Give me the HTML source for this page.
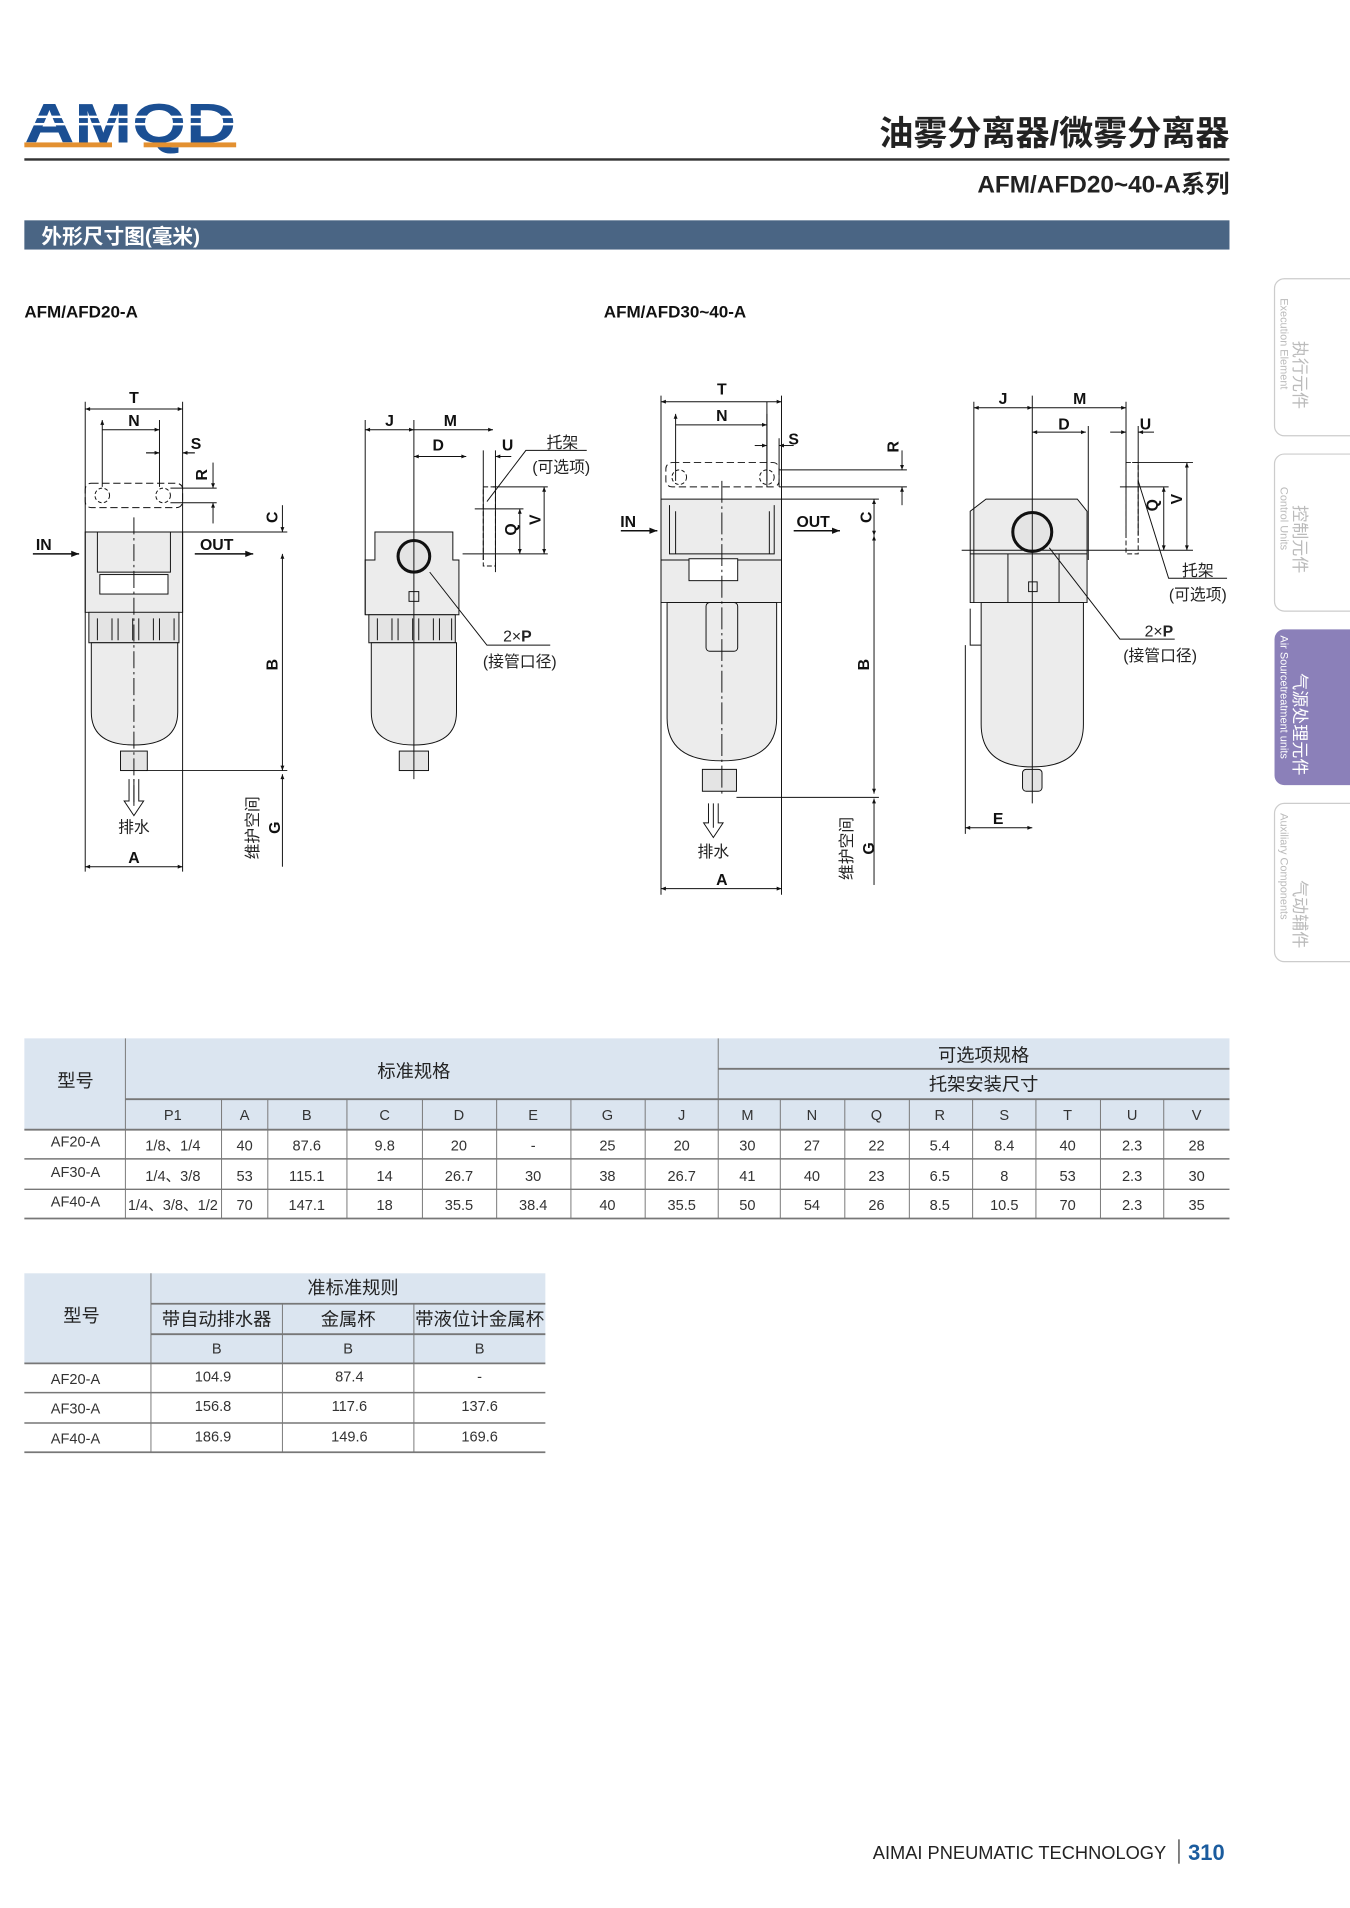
<!DOCTYPE html>
<html><head><meta charset="utf-8"><style>
html,body{margin:0;padding:0;background:#fff}
svg{display:block}
text{font-family:"Liberation Sans","Noto Sans CJK SC",sans-serif}
</style></head><body>
<svg width="1350" height="1908" viewBox="0 0 1109 1567.4" xmlns="http://www.w3.org/2000/svg">
<defs>
<marker id="a" viewBox="0 0 10 10" refX="10" refY="5" markerWidth="7" markerHeight="5" orient="auto-start-reverse"><path d="M0,1 L10,5 L0,9 z" fill="#111"/></marker>
</defs>
<!-- header -->
<text x="20" y="117" font-size="46" font-weight="bold" fill="#1b4f93" textLength="174" lengthAdjust="spacingAndGlyphs">AMQD</text>
<g fill="#fff"><rect x="22" y="95" width="170" height="2"/><rect x="22" y="101" width="170" height="2"/></g>
<rect x="20" y="117" width="72" height="4" fill="#e39030"/>
<rect x="118" y="117" width="76" height="4" fill="#e39030"/>
<text x="1010" y="119" font-size="28" text-anchor="end" fill="#222" font-weight="bold">油雾分离器/微雾分离器</text>
<rect x="20" y="130" width="990" height="2" fill="#333"/>
<text x="1010" y="158" font-size="20" text-anchor="end" fill="#222" font-weight="bold">AFM/AFD20~40-A系列</text>
<rect x="20" y="181" width="990" height="24" fill="#4a6584"/>
<text x="34" y="200" font-size="17" font-weight="bold" fill="#fff">外形尺寸图(毫米)</text>
<text x="20" y="261" font-size="14" font-weight="bold" fill="#111">AFM/AFD20-A</text>
<text x="496" y="261" font-size="14" font-weight="bold" fill="#111">AFM/AFD30~40-A</text>

<!-- side tabs -->
<g font-size="11" fill="#bbb">
<rect x="1047" y="229" width="70" height="129" rx="8" fill="#fff" stroke="#ccc"/>
<text transform="translate(1052,245) rotate(90)" font-size="9">Execution Element</text>
<text transform="translate(1063,280) rotate(90)" font-size="14">执行元件</text>
<rect x="1047" y="373" width="70" height="129" rx="8" fill="#fff" stroke="#ccc"/>
<text transform="translate(1052,400) rotate(90)" font-size="9">Control Units</text>
<text transform="translate(1063,415) rotate(90)" font-size="14">控制元件</text>
<rect x="1047" y="517" width="70" height="128" rx="8" fill="#8b80b9"/>
<text transform="translate(1052,522) rotate(90)" font-size="9" fill="#fff">Air Sourcetreatment units</text>
<text transform="translate(1063,553) rotate(90)" font-size="14" fill="#fff">气源处理元件</text>
<rect x="1047" y="660" width="70" height="130" rx="8" fill="#fff" stroke="#ccc"/>
<text transform="translate(1052,668) rotate(90)" font-size="9">Auxiliary Components</text>
<text transform="translate(1063,723) rotate(90)" font-size="14">气动辅件</text>
</g>

<g stroke="#111" stroke-width="0.8" fill="none">
<!-- ===== Drawing 1 ===== -->
<path d="M70,437 H150 V503 H70 Z" fill="#ececec"/>
<path d="M73,503 H147 V528 H73 Z" fill="#e4e4e4"/>
<path d="M80,508 V526 M92,508 V526 M97,508 V526 M109,508 V526 M114,508 V526 M126,508 V526 M131,508 V526 M143,508 V526"/>
<path d="M75,528 H146 V585 Q146,612 110,612 Q75,612 75,585 Z" fill="#ececec"/>
<rect x="99" y="617" width="22" height="16" fill="#e4e4e4"/>
<rect x="82" y="472" width="56" height="16" fill="#fff"/>
<path d="M80,437 V470 H140 V437"/>
<rect x="70" y="397" width="80" height="20" rx="5" stroke-dasharray="6 3"/>
<circle cx="84" cy="407" r="6" stroke-dasharray="3 2"/><circle cx="134" cy="407" r="6" stroke-dasharray="3 2"/>
<path d="M110,425 V660" stroke-dasharray="14 3 2 3"/>
<path d="M70,330 V716 M150,330 V716"/>
<path d="M70,336 H150" marker-start="url(#a)" marker-end="url(#a)"/>
<path d="M84,345 V400 M131,345 V400 M84,353 H131" marker-start="url(#a)" marker-end="url(#a)"/>
<path d="M120,372 H131 M150,372 H160"/><path d="M120,372 H131" marker-end="url(#a)"/><path d="M160,372 H150" marker-end="url(#a)"/>
<path d="M140,401 H178 M140,413 H178"/><path d="M175,380 V401" marker-end="url(#a)"/><path d="M175,430 V413" marker-end="url(#a)"/>
<path d="M150,437 H236 M120,633 H236"/>
<path d="M232,415 V437" marker-end="url(#a)"/>
<path d="M232,455 V633" marker-start="url(#a)" marker-end="url(#a)"/>
<path d="M232,636 V712" marker-start="url(#a)"/>
<path d="M70,712 H150" marker-start="url(#a)" marker-end="url(#a)"/>
<path d="M27,455 H65" marker-end="url(#a)" stroke-width="1.3"/>
<path d="M160,455 H208" marker-end="url(#a)" stroke-width="1.3"/>
<path d="M110,640 V662 M106,640 V658 H102 L110,670 L118,658 H114 V640"/>

<!-- ===== Drawing 2 ===== -->
<path d="M308,437 H372 V460 H377 V505 H300 V460 H308 Z" fill="#ececec"/>
<circle cx="340" cy="457" r="13" stroke-width="2.5" fill="#e4e4e4"/>
<rect x="336" y="486" width="8" height="8"/>
<path d="M303,505 H374 V528 H303 Z" fill="#e4e4e4"/>
<path d="M310,508 V526 M322,508 V526 M327,508 V526 M339,508 V526 M344,508 V526 M356,508 V526 M361,508 V526 M371,508 V526"/>
<path d="M305,528 H375 V585 Q375,612 340,612 Q305,612 305,585 Z" fill="#ececec"/>
<rect x="328" y="617" width="24" height="16" fill="#e4e4e4"/>
<path d="M340,345 V640"/>
<path d="M300,345 V505 M407,370 V470 M397,370 V460"/>
<path d="M300,353 H340" marker-start="url(#a)" marker-end="url(#a)"/>
<path d="M340,353 H405" marker-end="url(#a)"/>
<path d="M340,375 H383" marker-start="url(#a)" marker-end="url(#a)"/>
<path d="M420,375 H407" marker-end="url(#a)"/>
<rect x="397" y="400" width="10" height="65" stroke-dasharray="4 2"/>
<path d="M405,400 H450 M390,418 H430 M380,455 H450"/>
<path d="M427,418 V455" marker-start="url(#a)" marker-end="url(#a)"/>
<path d="M447,400 V455" marker-start="url(#a)" marker-end="url(#a)"/>
<path d="M400,412 L432,370 H482"/>
<path d="M353,470 L400,530 H452"/>

<!-- ===== Drawing 3 ===== -->
<rect x="547" y="380" width="93" height="20" rx="5" stroke-dasharray="6 3"/>
<circle cx="558" cy="392" r="6" stroke-dasharray="3 2"/><circle cx="630" cy="392" r="6" stroke-dasharray="3 2"/>
<path d="M543,410 H642 V495 H543 Z" fill="#ececec"/>
<path d="M550,415 V455 H636 V415 M555,420 V455 M632,420 V455"/>
<path d="M543,460 H642"/>
<rect x="566" y="459" width="40" height="18" fill="#fff"/>
<path d="M548,495 H638 V590 Q638,625 593,625 Q548,625 548,590 Z" fill="#ececec"/>
<rect x="580" y="495" width="26" height="40" rx="3"/>
<path d="M577,632 H605 V650 H577 Z" fill="#e4e4e4"/>
<path d="M593,395 V655" stroke-dasharray="18 3 2 3"/>
<path d="M543,325 V735 M642,325 V735"/>
<path d="M543,330 H642" marker-start="url(#a)" marker-end="url(#a)"/>
<path d="M555,340 V395 M630,340 V395 M555,349 H630" marker-start="url(#a)" marker-end="url(#a)"/>
<path d="M620,366 H630" marker-end="url(#a)"/><path d="M652,366 H640" marker-end="url(#a)"/>
<path d="M630,330 V400 M640,360 V400"/>
<path d="M640,386 H745 M640,400 H745"/>
<path d="M741,370 V386" marker-end="url(#a)"/><path d="M741,415 V400" marker-end="url(#a)"/>
<path d="M642,410 H722 M605,655 H722"/>
<path d="M718,410 V440" marker-start="url(#a)" marker-end="url(#a)"/>
<path d="M718,440 V652" marker-start="url(#a)" marker-end="url(#a)"/>
<path d="M718,656 V727" marker-start="url(#a)"/>
<path d="M543,730 H642" marker-start="url(#a)" marker-end="url(#a)"/>
<path d="M510,436 H540" marker-end="url(#a)" stroke-width="1.3"/>
<path d="M652,436 H690" marker-end="url(#a)" stroke-width="1.3"/>
<path d="M586,660 V680 M582,660 V676 H578 L586,688 L594,676 H590 V660"/>

<!-- ===== Drawing 4 ===== -->
<path d="M810,410 H885 L893,420 V495 H797 V420 Z" fill="#ececec"/>
<circle cx="848" cy="437" r="16" stroke-width="2.5" fill="#e4e4e4"/>
<path d="M797,455 H893 M828,455 V495 M870,455 V495"/>
<rect x="845" y="478" width="7" height="8"/>
<path d="M806,495 H890 V595 Q890,630 848,630 Q806,630 806,595 Z" fill="#ececec"/>
<rect x="840" y="632" width="16" height="18" rx="3" fill="#e4e4e4"/>
<path d="M797,500 V530 H806"/>
<path d="M848,325 V660"/>
<path d="M800,330 V495 M793,530 V685 M925,330 V440 M935,350 V440 M894,350 V460"/>
<path d="M800,335 H848" marker-start="url(#a)" marker-end="url(#a)"/>
<path d="M848,335 H925" marker-end="url(#a)"/>
<path d="M848,355 H892" marker-start="url(#a)" marker-end="url(#a)"/>
<path d="M912,355 H925" marker-end="url(#a)"/><path d="M948,355 H935" marker-end="url(#a)"/>
<rect x="925" y="380" width="10" height="75" stroke-dasharray="4 2"/>
<path d="M930,380 H980 M920,400 H960 M790,452 H980"/>
<path d="M956,400 V452" marker-start="url(#a)" marker-end="url(#a)"/>
<path d="M975,380 V452" marker-start="url(#a)" marker-end="url(#a)"/>
<path d="M935,395 L960,475 H1008"/>
<path d="M862,450 L920,525 H965"/>
<path d="M793,680 H848" marker-start="url(#a)" marker-end="url(#a)"/>
</g>

<!-- drawing labels -->
<g font-size="13" font-weight="bold" fill="#111" text-anchor="middle">
<text x="110" y="331">T</text><text x="110" y="350">N</text><text x="161" y="369">S</text>
<text transform="translate(170,390) rotate(-90)">R</text>
<text transform="translate(228,425) rotate(-90)">C</text>
<text transform="translate(228,546) rotate(-90)">B</text>
<text transform="translate(230,680) rotate(-90)">G</text>
<text x="110" y="709">A</text>
<text x="36" y="452">IN</text><text x="178" y="452">OUT</text>
<text x="320" y="350">J</text><text x="370" y="350">M</text><text x="360" y="370">D</text><text x="417" y="370">U</text>
<text transform="translate(424,435) rotate(-90)">Q</text>
<text transform="translate(444,427) rotate(-90)">V</text>
<text x="593" y="324">T</text><text x="593" y="346">N</text><text x="652" y="365">S</text>
<text transform="translate(738,367) rotate(-90)">R</text>
<text transform="translate(716,425) rotate(-90)">C</text>
<text transform="translate(714,546) rotate(-90)">B</text>
<text transform="translate(718,697) rotate(-90)">G</text>
<text x="593" y="727">A</text>
<text x="516" y="433">IN</text><text x="668" y="433">OUT</text>
<text x="824" y="332">J</text><text x="887" y="332">M</text><text x="874" y="353">D</text><text x="941" y="353">U</text>
<text transform="translate(951,415) rotate(-90)">Q</text>
<text transform="translate(971,410) rotate(-90)">V</text>
<text x="820" y="677">E</text>
</g>
<g font-size="13" fill="#222" text-anchor="middle">
<text x="462" y="368">托架</text><text x="461" y="388">(可选项)</text>
<text x="425" y="527">2×<tspan font-weight="bold">P</tspan></text><text x="427" y="548">(接管口径)</text>
<text x="110" y="684">排水</text>
<text transform="translate(212,680) rotate(-90)">维护空间</text>
<text x="984" y="473">托架</text><text x="984" y="493">(可选项)</text>
<text x="952" y="523">2×<tspan font-weight="bold">P</tspan></text><text x="953" y="543">(接管口径)</text>
<text x="586" y="704">排水</text>
<text transform="translate(700,697) rotate(-90)">维护空间</text>
</g>

<!-- Table 1 -->
<g>
<rect x="20" y="853" width="990" height="75" fill="#dbe5f0"/>
<g stroke="#777" stroke-width="0.8">
<line x1="103" y1="853" x2="103" y2="1001"/>
<line x1="590" y1="853" x2="590" y2="1001"/>
<line x1="590" y1="878" x2="1010" y2="878" stroke-width="1.5"/>
<line x1="103" y1="903" x2="1010" y2="903" stroke-width="1.5"/>
<line x1="20" y1="928" x2="1010" y2="928" stroke-width="1.5"/>
<line x1="20" y1="952" x2="1010" y2="952" stroke-width="1.2"/>
<line x1="20" y1="977" x2="1010" y2="977" stroke-width="1.2"/>
<line x1="20" y1="1001" x2="1010" y2="1001" stroke-width="1.5"/>
<path d="M182,903V1001 M220,903V1001 M285,903V1001 M347,903V1001 M408,903V1001 M469,903V1001 M530,903V1001 M641,903V1001 M694,903V1001 M747,903V1001 M799,903V1001 M851,903V1001 M904,903V1001 M956,903V1001"/>
</g>
<g font-size="15" fill="#222" text-anchor="middle">
<text x="62" y="893">型号</text><text x="340" y="885">标准规格</text>
<text x="808" y="872">可选项规格</text><text x="808" y="896">托架安装尺寸</text>
</g>
<g font-size="12" fill="#333" text-anchor="middle">
<text x="142" y="920">P1</text><text x="201" y="920">A</text><text x="252" y="920">B</text><text x="316" y="920">C</text><text x="377" y="920">D</text><text x="438" y="920">E</text><text x="499" y="920">G</text><text x="560" y="920">J</text><text x="614" y="920">M</text><text x="667" y="920">N</text><text x="720" y="920">Q</text><text x="772" y="920">R</text><text x="825" y="920">S</text><text x="877" y="920">T</text><text x="930" y="920">U</text><text x="983" y="920">V</text>
<text x="62" y="942">AF20-A</text><text x="142" y="945">1/8、1/4</text><text x="201" y="945">40</text><text x="252" y="945">87.6</text><text x="316" y="945">9.8</text><text x="377" y="945">20</text><text x="438" y="945">-</text><text x="499" y="945">25</text><text x="560" y="945">20</text><text x="614" y="945">30</text><text x="667" y="945">27</text><text x="720" y="945">22</text><text x="772" y="945">5.4</text><text x="825" y="945">8.4</text><text x="877" y="945">40</text><text x="930" y="945">2.3</text><text x="983" y="945">28</text>
<text x="62" y="967">AF30-A</text><text x="142" y="970">1/4、3/8</text><text x="201" y="970">53</text><text x="252" y="970">115.1</text><text x="316" y="970">14</text><text x="377" y="970">26.7</text><text x="438" y="970">30</text><text x="499" y="970">38</text><text x="560" y="970">26.7</text><text x="614" y="970">41</text><text x="667" y="970">40</text><text x="720" y="970">23</text><text x="772" y="970">6.5</text><text x="825" y="970">8</text><text x="877" y="970">53</text><text x="930" y="970">2.3</text><text x="983" y="970">30</text>
<text x="62" y="991">AF40-A</text><text x="142" y="994" textLength="74" lengthAdjust="spacingAndGlyphs">1/4、3/8、1/2</text><text x="201" y="994">70</text><text x="252" y="994">147.1</text><text x="316" y="994">18</text><text x="377" y="994">35.5</text><text x="438" y="994">38.4</text><text x="499" y="994">40</text><text x="560" y="994">35.5</text><text x="614" y="994">50</text><text x="667" y="994">54</text><text x="720" y="994">26</text><text x="772" y="994">8.5</text><text x="825" y="994">10.5</text><text x="877" y="994">70</text><text x="930" y="994">2.3</text><text x="983" y="994">35</text>
</g>
</g>

<!-- Table 2 -->
<g>
<rect x="20" y="1046" width="428" height="74" fill="#dbe5f0"/>
<g stroke="#777" stroke-width="0.8">
<line x1="124" y1="1046" x2="124" y2="1193"/>
<line x1="124" y1="1071" x2="448" y2="1071" stroke-width="1.5"/>
<line x1="124" y1="1096" x2="448" y2="1096" stroke-width="1.5"/>
<line x1="20" y1="1120" x2="448" y2="1120" stroke-width="1.5"/>
<line x1="20" y1="1144" x2="448" y2="1144" stroke-width="1.2"/>
<line x1="20" y1="1169" x2="448" y2="1169" stroke-width="1.2"/>
<line x1="20" y1="1193" x2="448" y2="1193" stroke-width="1.5"/>
<path d="M232,1071V1193 M340,1071V1193"/>
</g>
<g font-size="15" fill="#222" text-anchor="middle">
<text x="67" y="1086">型号</text><text x="290" y="1063">准标准规则</text>
<text x="178" y="1089">带自动排水器</text><text x="286" y="1089">金属杯</text><text x="394" y="1089" textLength="106" lengthAdjust="spacingAndGlyphs">带液位计金属杯</text>
</g>
<g font-size="12" fill="#333" text-anchor="middle">
<text x="178" y="1112">B</text><text x="286" y="1112">B</text><text x="394" y="1112">B</text>
<text x="62" y="1137">AF20-A</text><text x="175" y="1135">104.9</text><text x="287" y="1135">87.4</text><text x="394" y="1135">-</text>
<text x="62" y="1161">AF30-A</text><text x="175" y="1159">156.8</text><text x="287" y="1159">117.6</text><text x="394" y="1159">137.6</text>
<text x="62" y="1186">AF40-A</text><text x="175" y="1184">186.9</text><text x="287" y="1184">149.6</text><text x="394" y="1184">169.6</text>
</g>
</g>

<!-- footer -->
<text x="958" y="1527" font-size="15" fill="#222" text-anchor="end">AIMAI PNEUMATIC TECHNOLOGY</text>
<rect x="968" y="1511" width="1" height="20" fill="#333"/>
<text x="976" y="1528" font-size="18" font-weight="bold" fill="#1b5c9e">310</text>
</svg>
</body></html>
